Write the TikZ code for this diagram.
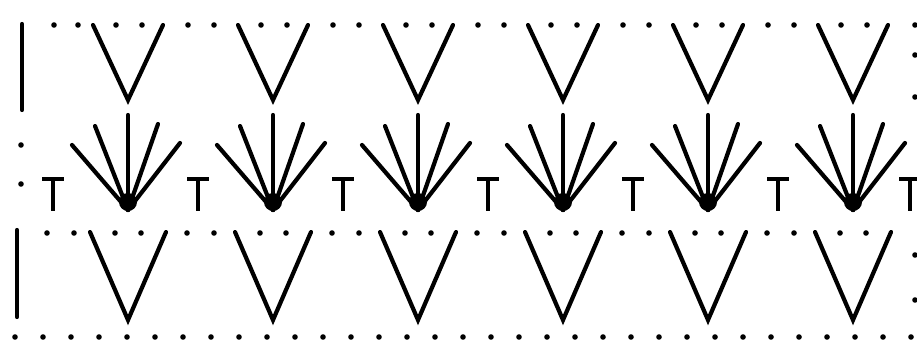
\documentclass[tikz,border=0pt]{standalone}
\begin{document}
\begin{tikzpicture}[x=1pt,y=-1pt,
        stitch/.style={line width=4.2pt,line cap=round},
        post/.style={line width=3.6pt},
        dot/.style={fill,radius=2.8pt}]
    \useasboundingbox (0,0) rectangle (917,342);

    \foreach \i in {0,...,5} {
        \pgfmathsetmacro\c{128+145*\i}
        \coordinate (top\i) at (\c,100);
        \coordinate (fan\i) at (\c,210);
        \coordinate (bot\i) at (\c,320);

        \draw[stitch] (\c-35,25) -- (top\i) -- (\c+35,25);
        \draw[stitch] (\c-38,232) -- (bot\i) -- (\c+38,232);

        \fill (\c,202) circle (9pt);
        \draw[stitch] (fan\i) -- (\c,115);
        \draw[stitch] (fan\i) -- (\c-33,126);
        \draw[stitch] (fan\i) -- (\c+30,124);
        \draw[stitch] (fan\i) -- (\c-56,145);
        \draw[stitch] (fan\i) -- (\c+52,143);

        \fill[dot] (\c-12,25) circle;
        \fill[dot] (\c+14,25) circle;
        \fill[dot] (\c-13,233) circle;
        \fill[dot] (\c+13,233) circle;
    }
    \foreach \i in {0,...,4} {
        \pgfmathsetmacro\c{128+145*\i}
        \fill[dot] (\c+60,25) circle;
        \fill[dot] (\c+86,25) circle;
        \fill[dot] (\c+59,233) circle;
        \fill[dot] (\c+86,233) circle;
    }

    \foreach \x in {53,198,343,488,633,778,910}
        \draw[post] (\x-11,179) -- (\x+11,179) (\x,179) -- (\x,211);

    \fill[dot] (54,25) circle;
    \fill[dot] (78,25) circle;
    \fill[dot] (47,233) circle;
    \fill[dot] (74,233) circle;

    \draw[stitch] (22,24) -- (22,110);
    \fill[dot] (21,145) circle;
    \fill[dot] (21,184) circle;
    \draw[stitch] (17,230) -- (17,317);

    \foreach \y in {25,55,97,255,300}
        \fill[dot] (915,\y) circle;

    \foreach \k in {0,...,32}
        \fill[dot] (15+28*\k,337) circle;
\end{tikzpicture}
\end{document}
